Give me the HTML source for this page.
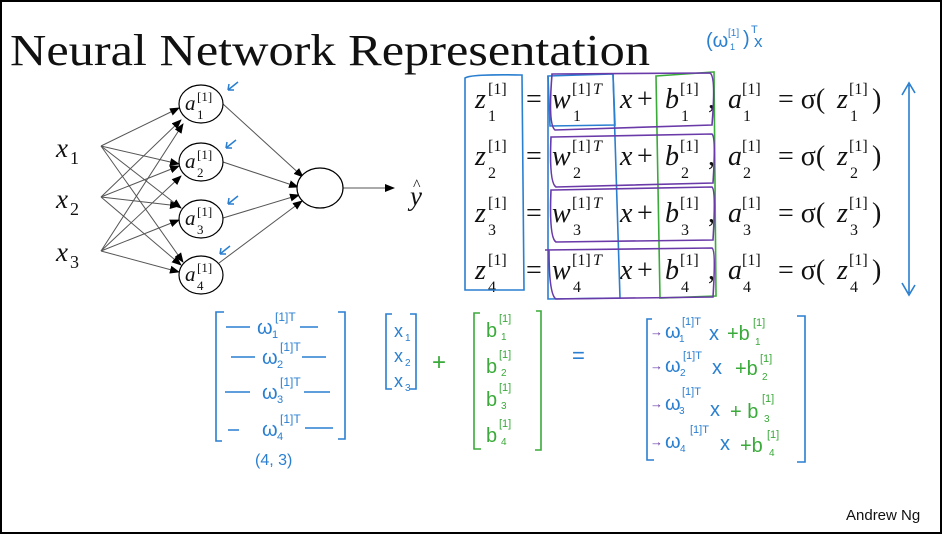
<!DOCTYPE html>
<html><head><style>
html,body{margin:0;padding:0;background:#fff;}
svg{display:block;}
.m{font-family:"Liberation Serif",serif;font-style:italic;font-size:28px;fill:#111;}
.r{font-family:"Liberation Serif",serif;font-size:28px;fill:#111;}
.s{font-family:"Liberation Serif",serif;font-size:16px;fill:#111;}
.h{font-family:"Liberation Sans",sans-serif;}
</style></head><body>
<svg width="942" height="534" viewBox="0 0 942 534" xmlns="http://www.w3.org/2000/svg">
<defs>
<marker id="ar" markerWidth="10" markerHeight="8" refX="9" refY="4" orient="auto" markerUnits="userSpaceOnUse"><path d="M0,0 L10,4 L0,8z" fill="#000"/></marker>
</defs>
<rect x="1" y="1" width="940" height="532" fill="#fff" stroke="#000" stroke-width="2"/>
<text x="10" y="65" font-family="Liberation Serif,serif" font-size="44" fill="#111" textLength="640" lengthAdjust="spacingAndGlyphs">Neural Network Representation</text>
<g class="h" fill="#2a7fd0">
<text x="706" y="47" font-size="20">(ω</text><text x="728" y="36" font-size="10">[1]</text><text x="730" y="50" font-size="9">1</text><text x="743" y="45" font-size="20">)</text><text x="751" y="33" font-size="11">T</text><text x="754" y="47" font-size="17">x</text>
</g>

<!-- network -->
<g stroke="#555" stroke-width="1" fill="none" marker-end="url(#ar)">
<line x1="101" y1="146" x2="179" y2="108"/><line x1="101" y1="146" x2="179" y2="164"/><line x1="101" y1="146" x2="181" y2="208"/><line x1="101" y1="146" x2="183" y2="262"/>
<line x1="101" y1="197" x2="181" y2="120"/><line x1="101" y1="197" x2="179" y2="166"/><line x1="101" y1="197" x2="179" y2="206"/><line x1="101" y1="197" x2="181" y2="265"/>
<line x1="101" y1="251" x2="183" y2="124"/><line x1="101" y1="251" x2="181" y2="176"/><line x1="101" y1="251" x2="179" y2="220"/><line x1="101" y1="251" x2="179" y2="272"/>
<line x1="223" y1="104" x2="303" y2="177"/><line x1="223" y1="162" x2="298" y2="187"/><line x1="223" y1="218" x2="299" y2="195"/><line x1="219" y1="263" x2="302" y2="201"/>
<line x1="343" y1="188" x2="394" y2="188"/>
</g>
<g fill="#fff" stroke="#000" stroke-width="1.2">
<ellipse cx="201" cy="104" rx="22" ry="19"/><ellipse cx="201" cy="162" rx="22" ry="19"/><ellipse cx="201" cy="219" rx="22" ry="19"/><ellipse cx="201" cy="275" rx="22" ry="19"/>
<ellipse cx="320" cy="188" rx="23" ry="20"/>
</g>
<g font-family="Liberation Serif,serif" fill="#111">
<text x="185" y="110" font-style="italic" font-size="21">a</text><text x="197" y="101" font-size="13">[1]</text><text x="197" y="119" font-size="13">1</text>
<text x="185" y="168" font-style="italic" font-size="21">a</text><text x="197" y="159" font-size="13">[1]</text><text x="197" y="177" font-size="13">2</text>
<text x="185" y="225" font-style="italic" font-size="21">a</text><text x="197" y="216" font-size="13">[1]</text><text x="197" y="234" font-size="13">3</text>
<text x="185" y="281" font-style="italic" font-size="21">a</text><text x="197" y="272" font-size="13">[1]</text><text x="197" y="290" font-size="13">4</text>
<text x="56" y="157" font-style="italic" font-size="27">x</text><text x="70" y="164" font-size="18">1</text>
<text x="56" y="208" font-style="italic" font-size="27">x</text><text x="70" y="215" font-size="18">2</text>
<text x="56" y="261" font-style="italic" font-size="27">x</text><text x="70" y="268" font-size="18">3</text>
<text x="410" y="205" font-style="italic" font-size="27">y</text><text x="413" y="190" font-size="16">^</text>
</g>
<g stroke="#2a7fd0" stroke-width="1.5" fill="none">
<path d="M238,82 L228,90 M228,90 L229,84 M228,90 L234,90"/>
<path d="M236,140 L226,148 M226,148 L227,142 M226,148 L232,148"/>
<path d="M238,196 L228,204 M228,204 L229,198 M228,204 L234,204"/>
<path d="M230,246 L220,254 M220,254 L221,248 M220,254 L226,254"/>
</g>

<!-- equations -->
<g>
<text class="m" x="475" y="108">z</text><text class="s" x="488" y="94">[1]</text><text class="s" x="488" y="121">1</text>
<text class="m" x="475" y="165">z</text><text class="s" x="488" y="151">[1]</text><text class="s" x="488" y="178">2</text>
<text class="m" x="475" y="222">z</text><text class="s" x="488" y="208">[1]</text><text class="s" x="488" y="235">3</text>
<text class="m" x="475" y="279">z</text><text class="s" x="488" y="265">[1]</text><text class="s" x="488" y="292">4</text>
</g>
<g id="rows">
<text class="r" x="526" y="108">=</text><text class="m" x="552" y="108">w</text><text class="s" x="572" y="94">[1]</text><text class="s" x="593" y="94" font-style="italic">T</text><text class="s" x="573" y="121">1</text><text class="m" x="620" y="108">x</text><text class="r" x="637" y="108">+</text><text class="m" x="665" y="108">b</text><text class="s" x="680" y="94">[1]</text><text class="s" x="681" y="121">1</text><text class="r" x="708" y="108">,</text><text class="m" x="728" y="108">a</text><text class="s" x="742" y="94">[1]</text><text class="s" x="743" y="121">1</text><text class="r" x="778" y="108">= σ(</text><text class="m" x="837" y="108">z</text><text class="s" x="849" y="94">[1]</text><text class="s" x="850" y="121">1</text><text class="r" x="872" y="108">)</text>
</g>
<g transform="translate(0,57)">
<text class="r" x="526" y="108">=</text><text class="m" x="552" y="108">w</text><text class="s" x="572" y="94">[1]</text><text class="s" x="593" y="94" font-style="italic">T</text><text class="s" x="573" y="121">2</text><text class="m" x="620" y="108">x</text><text class="r" x="637" y="108">+</text><text class="m" x="665" y="108">b</text><text class="s" x="680" y="94">[1]</text><text class="s" x="681" y="121">2</text><text class="r" x="708" y="108">,</text><text class="m" x="728" y="108">a</text><text class="s" x="742" y="94">[1]</text><text class="s" x="743" y="121">2</text><text class="r" x="778" y="108">= σ(</text><text class="m" x="837" y="108">z</text><text class="s" x="849" y="94">[1]</text><text class="s" x="850" y="121">2</text><text class="r" x="872" y="108">)</text>
</g>
<g transform="translate(0,114)">
<text class="r" x="526" y="108">=</text><text class="m" x="552" y="108">w</text><text class="s" x="572" y="94">[1]</text><text class="s" x="593" y="94" font-style="italic">T</text><text class="s" x="573" y="121">3</text><text class="m" x="620" y="108">x</text><text class="r" x="637" y="108">+</text><text class="m" x="665" y="108">b</text><text class="s" x="680" y="94">[1]</text><text class="s" x="681" y="121">3</text><text class="r" x="708" y="108">,</text><text class="m" x="728" y="108">a</text><text class="s" x="742" y="94">[1]</text><text class="s" x="743" y="121">3</text><text class="r" x="778" y="108">= σ(</text><text class="m" x="837" y="108">z</text><text class="s" x="849" y="94">[1]</text><text class="s" x="850" y="121">3</text><text class="r" x="872" y="108">)</text>
</g>
<g transform="translate(0,171)">
<text class="r" x="526" y="108">=</text><text class="m" x="552" y="108">w</text><text class="s" x="572" y="94">[1]</text><text class="s" x="593" y="94" font-style="italic">T</text><text class="s" x="573" y="121">4</text><text class="m" x="620" y="108">x</text><text class="r" x="637" y="108">+</text><text class="m" x="665" y="108">b</text><text class="s" x="680" y="94">[1]</text><text class="s" x="681" y="121">4</text><text class="r" x="708" y="108">,</text><text class="m" x="728" y="108">a</text><text class="s" x="742" y="94">[1]</text><text class="s" x="743" y="121">4</text><text class="r" x="778" y="108">= σ(</text><text class="m" x="837" y="108">z</text><text class="s" x="849" y="94">[1]</text><text class="s" x="850" y="121">4</text><text class="r" x="872" y="108">)</text>
</g>
<!-- hand boxes -->
<g fill="none" stroke-width="1.6">
<path d="M465,78 Q470,74 522,75 L524,290 L465,290 Z" stroke="#2a7fd0"/>
<path d="M548,76 L613,74 L615,125 L550,126 Z" stroke="#2a7fd0"/>
<path d="M613,74 L620,298 L548,299 L548,76" stroke="#2a7fd0"/>
<path d="M656,76 L714,72 L716,296 L660,298 Z" stroke="#3aaa3a"/>
<g stroke="#6a3aa8">
<path d="M553,74 L710,73 Q716,76 712,125 L555,130 Q548,125 552,74Z"/>
<path d="M553,137 L712,134 Q716,137 713,183 L556,187 Q549,183 551,137Z"/>
<path d="M553,190 L712,187 Q716,190 713,240 L556,242 Q549,238 551,190Z"/>
<path d="M545,250 L712,248 Q716,250 713,297 L556,299 Q549,295 549,250Z"/>
</g>
<path d="M909,85 L909,293 M902,95 L909,83 L915,93 M902,283 L909,295 L915,285" stroke="#2a7fd0"/>
</g>

<!-- bottom matrices -->
<g fill="none" stroke="#2a7fd0" stroke-width="1.6">
<path d="M224,312 L216,312 L216,441 L222,441"/><path d="M338,312 L345,312 L345,439 L338,439"/>
<path d="M392,314 L386,314 L386,389 L392,389"/><path d="M410,314 L416,314 L416,389 L410,389"/>
<path d="M652,319 L647,319 L647,460 L654,460"/><path d="M797,316 L805,316 L805,462 L797,462"/>
<path d="M226,327 L250,327 M300,327 L318,327 M231,357 L255,357 M302,357 L326,357 M225,392 L250,392 M304,392 L330,392 M228,430 L239,430 M305,428 L333,428"/>
</g>
<g class="h" fill="#2a7fd0" font-size="20">
<text x="257" y="334">ω</text><text x="275" y="321" font-size="12">[1]T</text><text x="272" y="338" font-size="11">1</text>
<text x="262" y="364">ω</text><text x="280" y="351" font-size="12">[1]T</text><text x="277" y="368" font-size="11">2</text>
<text x="262" y="399">ω</text><text x="280" y="386" font-size="12">[1]T</text><text x="277" y="403" font-size="11">3</text>
<text x="262" y="436">ω</text><text x="280" y="423" font-size="12">[1]T</text><text x="277" y="440" font-size="11">4</text>
<text x="255" y="465" font-size="16">(4, 3)</text>
<text x="394" y="337" font-size="18">x</text><text x="405" y="341" font-size="10">1</text>
<text x="394" y="362" font-size="18">x</text><text x="405" y="366" font-size="10">2</text>
<text x="394" y="387" font-size="18">x</text><text x="405" y="391" font-size="10">3</text>
<text x="572" y="363" font-size="22">=</text>
</g>
<g fill="none" stroke="#3aaa3a" stroke-width="1.6">
<path d="M480,313 L474,313 L474,449 L481,449"/><path d="M536,311 L541,311 L541,450 L535,450"/>
</g>
<g class="h" fill="#3aaa3a" font-size="20">
<text x="432" y="370" font-size="24">+</text>
<text x="486" y="337">b</text><text x="499" y="322" font-size="11">[1]</text><text x="501" y="340" font-size="10">1</text>
<text x="486" y="373">b</text><text x="499" y="358" font-size="11">[1]</text><text x="501" y="376" font-size="10">2</text>
<text x="486" y="406">b</text><text x="499" y="391" font-size="11">[1]</text><text x="501" y="409" font-size="10">3</text>
<text x="486" y="442">b</text><text x="499" y="427" font-size="11">[1]</text><text x="501" y="445" font-size="10">4</text>
</g>
<g class="h" font-size="20">
<text x="650" y="336" fill="#6a3aa8" font-size="13">→</text><text x="665" y="338" fill="#2a7fd0">ω</text><text x="682" y="325" fill="#2a7fd0" font-size="11">[1]T</text><text x="679" y="342" fill="#2a7fd0" font-size="10">1</text><text x="709" y="340" fill="#2a7fd0">x</text><text x="727" y="340" fill="#3aaa3a">+b</text><text x="753" y="326" fill="#3aaa3a" font-size="11">[1]</text><text x="755" y="345" fill="#3aaa3a" font-size="10">1</text>
<text x="650" y="370" fill="#6a3aa8" font-size="13">→</text><text x="665" y="372" fill="#2a7fd0">ω</text><text x="683" y="359" fill="#2a7fd0" font-size="11">[1]T</text><text x="680" y="376" fill="#2a7fd0" font-size="10">2</text><text x="712" y="374" fill="#2a7fd0">x</text><text x="735" y="375" fill="#3aaa3a">+b</text><text x="760" y="362" fill="#3aaa3a" font-size="11">[1]</text><text x="762" y="380" fill="#3aaa3a" font-size="10">2</text>
<text x="650" y="408" fill="#6a3aa8" font-size="13">→</text><text x="665" y="410" fill="#2a7fd0">ω</text><text x="682" y="395" fill="#2a7fd0" font-size="11">[1]T</text><text x="679" y="414" fill="#2a7fd0" font-size="10">3</text><text x="710" y="416" fill="#2a7fd0">x</text><text x="730" y="418" fill="#3aaa3a">+ b</text><text x="762" y="402" fill="#3aaa3a" font-size="11">[1]</text><text x="764" y="422" fill="#3aaa3a" font-size="10">3</text>
<text x="650" y="446" fill="#6a3aa8" font-size="13">→</text><text x="665" y="448" fill="#2a7fd0">ω</text><text x="690" y="433" fill="#2a7fd0" font-size="11">[1]T</text><text x="680" y="452" fill="#2a7fd0" font-size="10">4</text><text x="720" y="450" fill="#2a7fd0">x</text><text x="740" y="452" fill="#3aaa3a">+b</text><text x="767" y="438" fill="#3aaa3a" font-size="11">[1]</text><text x="769" y="456" fill="#3aaa3a" font-size="10">4</text>
</g>
<text x="846" y="520" font-family="Liberation Sans,sans-serif" font-size="15" fill="#111">Andrew Ng</text>
</svg>
</body></html>
